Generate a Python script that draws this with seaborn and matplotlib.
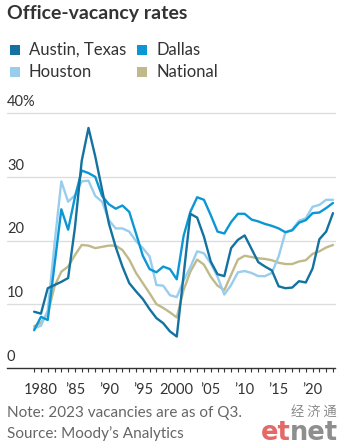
import matplotlib
matplotlib.use("Agg")
import matplotlib.pyplot as plt
import seaborn as sns
import pandas as pd
from matplotlib.patches import Rectangle

# Annual office-vacancy rates (%), 1979-2023
years = list(range(1979, 2024))
austin = [8.8, 8.5, 12.5, 13.0, 13.5, 14.1, 22.0, 32.5, 37.7, 33.2, 28.0, 22.7,
          19.0, 15.9, 13.3, 12.0, 10.8, 9.2, 7.8, 7.0, 5.7, 4.9, 14.5, 24.2,
          23.6, 20.6, 16.7, 14.7, 14.4, 18.8, 20.1, 20.8, 18.7, 16.6, 15.9, 15.3,
          12.8, 12.5, 12.6, 13.6, 13.4, 15.6, 20.2, 21.4, 24.3]
dallas = [5.9, 8.0, 7.5, 16.2, 24.9, 21.7, 26.8, 31.0, 30.6, 30.0, 27.0, 25.7,
          25.0, 25.5, 24.5, 21.1, 17.6, 15.5, 15.0, 15.9, 15.5, 13.9, 20.7, 24.5,
          26.8, 26.4, 24.0, 21.4, 21.1, 22.9, 24.2, 24.2, 23.3, 23.0, 22.6, 22.3,
          21.9, 21.3, 21.6, 22.8, 23.2, 24.3, 24.4, 25.1, 25.9]
houston = [6.2, 6.6, 9.0, 19.5, 29.3, 26.1, 27.1, 29.3, 29.4, 27.0, 26.1, 23.2,
           21.9, 21.9, 21.4, 19.9, 18.8, 17.5, 13.0, 12.9, 11.4, 11.1, 13.7, 15.8,
           18.3, 18.0, 16.4, 14.3, 11.5, 13.0, 15.0, 15.2, 14.9, 14.4, 14.4, 14.9,
           17.5, 21.3, 21.7, 23.1, 23.5, 25.3, 25.6, 26.4, 26.4]
national = [6.5, 7.1, 8.5, 12.8, 15.1, 15.9, 17.7, 19.3, 19.2, 18.8, 19.0, 19.2,
            19.2, 18.5, 17.0, 14.9, 13.3, 11.7, 10.0, 9.4, 8.7, 7.9, 12.2, 15.1,
            17.0, 16.2, 14.3, 12.9, 12.2, 14.6, 17.0, 17.6, 17.4, 17.2, 17.1, 16.9,
            16.5, 16.3, 16.3, 16.7, 16.9, 17.9, 18.3, 18.9, 19.3]

series_names = ["Austin, Texas", "Dallas", "Houston", "National"]
colors = {"Austin, Texas": "#13729f", "Dallas": "#0c97d4",
          "Houston": "#98cdee", "National": "#c0b98a"}

x_ticks = [1980, 1985, 1990, 1995, 2000, 2005, 2010, 2015, 2020]
x_tick_labels = ["1980", "\u201985", "\u201990", "\u201995", "2000",
                 "\u201905", "\u201910", "\u201915", "\u201920"]
y_ticks = [0, 10, 20, 30, 40]
y_tick_labels = ["0", "10", "20", "30", "40%"]

df = pd.DataFrame({
    "year": years * 4,
    "rate": national + houston + dallas + austin,
    "market": (["National"] * len(years) + ["Houston"] * len(years)
               + ["Dallas"] * len(years) + ["Austin, Texas"] * len(years)),
})

sns.set_theme(style="white")
plt.rcParams["font.family"] = ["Lato", "DejaVu Sans"]

W, H = 343, 447
fig = plt.figure(figsize=(W / 100, H / 100), dpi=100)
fig.patch.set_facecolor("white")


def fx(px):
    return px / W


def fy(py):
    return 1 - py / H


left, right, top, bottom = 7, 335, 113.3, 367.7
ax = fig.add_axes([fx(left), fy(bottom), (right - left) / W, (bottom - top) / H])
ax.set_facecolor("white")

sns.lineplot(data=df, x="year", y="rate", hue="market", palette=colors,
             hue_order=["National", "Houston", "Dallas", "Austin, Texas"],
             linewidth=1.7, legend=False, ax=ax, zorder=3)

ax.set_xlim(1975, 2023.3)
ax.set_ylim(0, 40)
ax.set_xlabel("")
ax.set_ylabel("")

for s in ["left", "right", "top"]:
    ax.spines[s].set_visible(False)
ax.spines["bottom"].set_color("#333333")
ax.spines["bottom"].set_linewidth(1.0)
ax.spines["bottom"].set_zorder(4)

# gridlines
for v in y_ticks[1:]:
    ax.axhline(v, color="#dddddd", linewidth=1.0, zorder=1, clip_on=False)

ax.set_yticks([])
ax.set_xticks(x_ticks)
ax.set_xticklabels(x_tick_labels, fontsize=10.5, color="#333333")
ax.set_xticks(years, minor=True)
ax.tick_params(axis="x", which="both", direction="out", length=3, width=0.8,
               color="#333333", bottom=True, pad=8)

for v, lab in zip(y_ticks, y_tick_labels):
    ax.annotate(lab, xy=(0, v), xycoords=("axes fraction", "data"),
                xytext=(0, 3), textcoords="offset points",
                ha="left", va="bottom", fontsize=10.5, color="#333333")

# Title
fig.text(fx(7), fy(13), "Office-vacancy rates", fontsize=14, fontweight="bold",
         color="#333333", ha="left", va="center")

# Legend: square swatch + label, two columns
legend_items = [("Austin, Texas", 10, 50), ("Dallas", 137, 50),
                ("Houston", 10, 72), ("National", 137, 72)]
for name, x0, yc in legend_items:
    fig.patches.append(Rectangle((fx(x0), fy(yc + 5)), 10 / W, 10 / H,
                                 transform=fig.transFigure,
                                 facecolor=colors[name], edgecolor="none"))
    fig.text(fx(x0 + 19), fy(yc), name, fontsize=12, color="#333333",
             ha="left", va="center")

# Footnote
fig.text(fx(7), fy(413), "Note: 2023 vacancies are as of Q3.", fontsize=11,
         color="#666666", ha="left", va="center")
fig.text(fx(7), fy(434), "Source: Moody\u2019s Analytics", fontsize=11,
         color="#666666", ha="left", va="center")

# Publisher mark
fig.text(fx(337), fy(412), "经 济 通", fontsize=9.5, color="#8a8a8a",
         family=["Noto Sans CJK SC", "DejaVu Sans"], ha="right", va="center")
fig.text(fx(261), fy(440), "et", fontsize=18.5, fontweight="bold",
         family=["DejaVu Sans"], color="#e46a68",
         ha="left", va="baseline")
fig.text(fx(289.5), fy(440), "net", fontsize=18.5, fontweight="bold",
         family=["DejaVu Sans"], color="#8e8e8e",
         ha="left", va="baseline")

fig.savefig("out.png", dpi=100, facecolor="white")
